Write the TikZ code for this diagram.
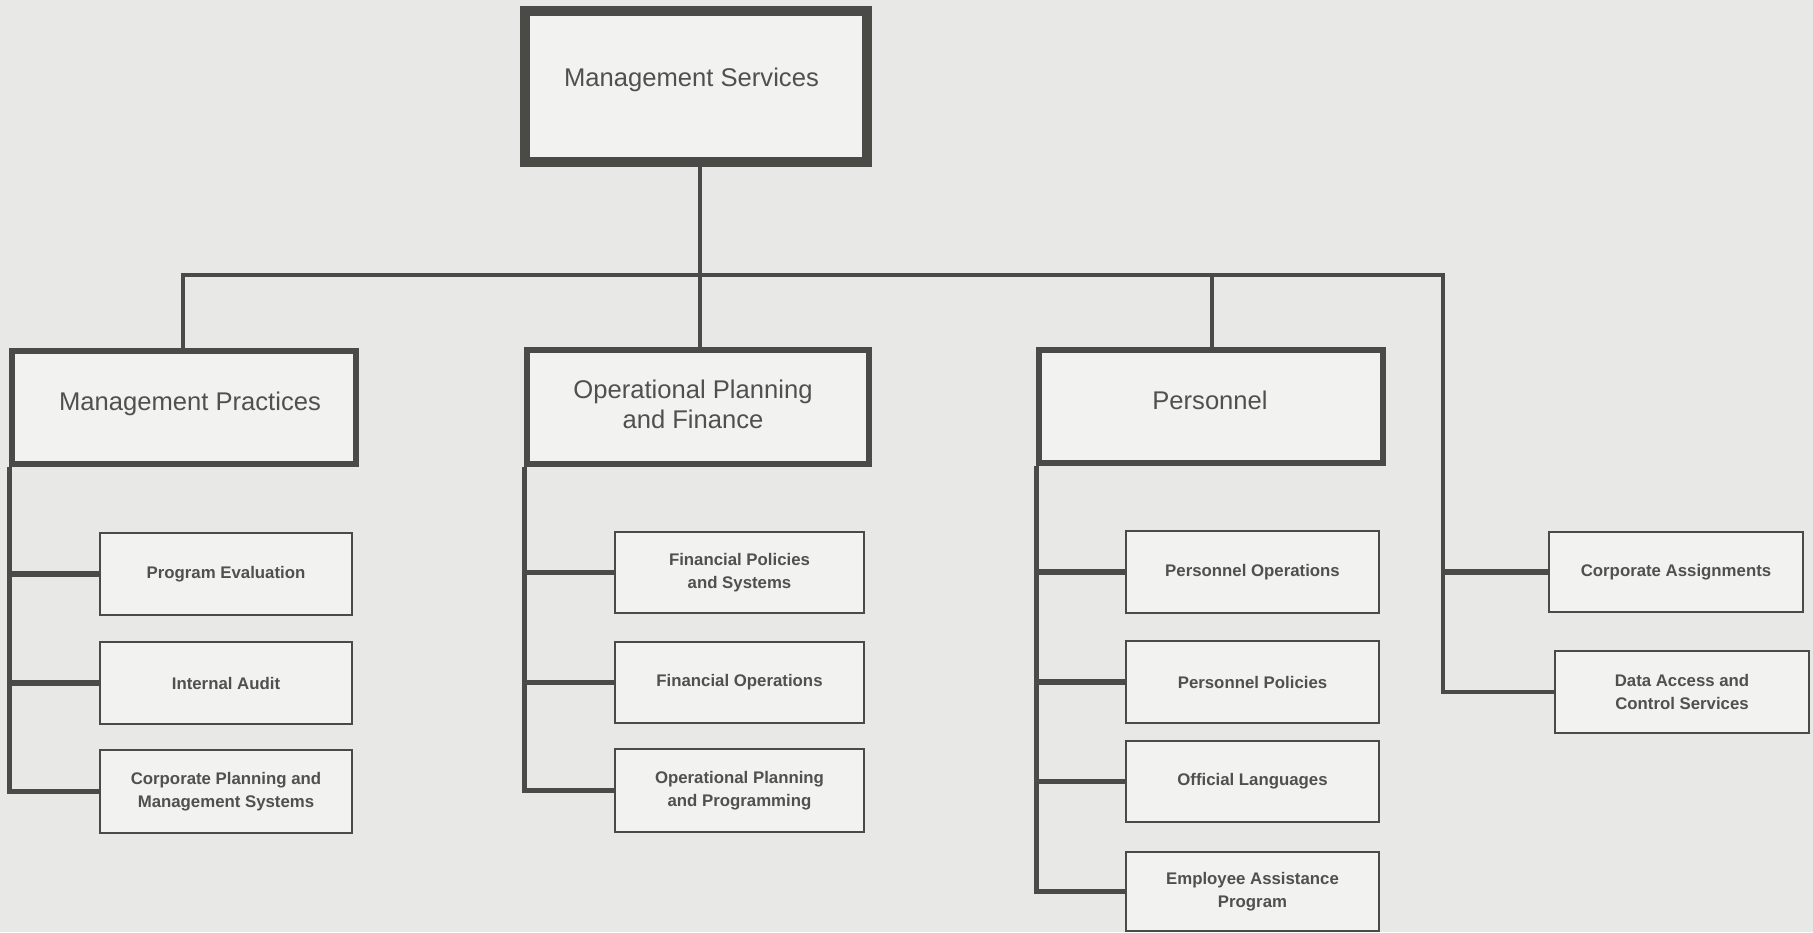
\documentclass[tikz,border=0pt]{standalone}
\usepackage{fontspec}
\setmainfont{Liberation Sans}
\definecolor{bgc}{HTML}{E8E8E6}
\definecolor{boxfill}{HTML}{F2F2F0}
\definecolor{ink}{HTML}{4A4A46}
\definecolor{txt}{HTML}{505050}
\begin{document}
\begin{tikzpicture}[x=0.5pt,y=-0.5pt,
  topbox/.style={draw=ink, fill=boxfill, line width=5pt, inner sep=0pt, minimum width=171pt, minimum height=75.5pt},
  headbox/.style={draw=ink, fill=boxfill, line width=3pt, inner sep=0pt, minimum width=172pt, minimum height=56.5pt},
  headtext/.style={text=txt, font=\fontsize{12.8}{15}\selectfont, align=center, inner sep=0pt},
  childbox/.style={draw=ink, fill=boxfill, line width=0.75pt, inner sep=0pt, minimum width=126pt, minimum height=41pt,
    text=txt, font=\fontsize{8.4}{11.5}\selectfont\bfseries, align=center},
  conn/.style={draw=ink, line width=2.25pt},
  trunk/.style={draw=ink, line width=2.5pt},
  twig/.style={draw=ink, line width=2.75pt},
]
\fill[bgc] (0,0) rectangle (1813,932);
\useasboundingbox (0,0) rectangle (1813,932);

% top
\node[topbox] (ms) at (696,86.5) {};
\node[headtext, anchor=base] (mst) at (691.5,86) {Management Services};

% heads
\node[headbox] (mp) at (184,407.5) {};
\node[headtext, anchor=base] (mpt) at (190,410) {Management Practices};
\node[headbox, minimum width=171pt, minimum height=57pt] (opf) at (698,407) {};
\node[headtext, anchor=base] (opft1) at (693,398) {Operational Planning};
\node[headtext, anchor=base] (opft2) at (693,428) {and Finance};
\node[headbox] (per) at (1211,406.5) {};
\node[headtext, anchor=base] (pert) at (1210,409) {Personnel};

% children MP
\node[childbox] (pe) at (226,574) {Program Evaluation};
\node[childbox] (ia) at (226,683) {Internal Audit};
\node[childbox, minimum height=41.5pt] (cpms) at (226,791.5) {Corporate Planning and\\Management Systems};
% children OPF
\node[childbox, minimum width=124.5pt, minimum height=40.5pt] (fps) at (739.5,572.5) {Financial Policies\\and Systems};
\node[childbox, minimum width=124.5pt, minimum height=40.5pt] (fo) at (739.5,682.5) {Financial Operations};
\node[childbox, minimum width=124.5pt, minimum height=41.5pt] (opp) at (739.5,790.5) {Operational Planning\\and Programming};
% children Personnel
\node[childbox, minimum width=126.5pt] (po) at (1252.5,572) {Personnel Operations};
\node[childbox, minimum width=126.5pt] (pp) at (1252.5,682) {Personnel Policies};
\node[childbox, minimum width=126.5pt, minimum height=40.5pt] (ol) at (1252.5,781.5) {Official Languages};
\node[childbox, minimum width=126.5pt, minimum height=39.5pt] (eap) at (1252.5,891.5) {Employee Assistance\\Program};
% right
\node[childbox, minimum width=127pt, minimum height=40pt] (ca) at (1676,572) {Corporate Assignments};
\node[childbox, minimum width=127pt] (dacs) at (1682,692) {Data Access and\\Control Services};

% bus
\coordinate (busL) at (183,275);
\coordinate (busC) at (700,275);
\coordinate (busP) at (1212,275);
\coordinate (busR) at (1443,275);
\draw[conn] (ms.south -| busC) -- (busC);
\draw[conn] (mp.north -| busL) -- (busL) -- (busR) -- (dacs.west -| busR) -- (dacs.west);
\draw[conn] (busC) -- (opf.north -| busC);
\draw[conn] (busP) -- (per.north -| busP);
\draw[twig] (ca.west -| busR) -- (ca.west);

% trunks
\draw[trunk] (mp.south west) -- (mp.south west |- cpms.west) -- (cpms.west);
\draw[twig] (mp.south west |- pe.west) -- (pe.west);
\draw[twig] (mp.south west |- ia.west) -- (ia.west);

\draw[trunk] (opf.south west) -- (opf.south west |- opp.west) -- (opp.west);
\draw[twig] (opf.south west |- fps.west) -- (fps.west);
\draw[twig] (opf.south west |- fo.west) -- (fo.west);

\draw[trunk] (per.south west) -- (per.south west |- eap.west) -- (eap.west);
\draw[twig] (per.south west |- po.west) -- (po.west);
\draw[twig] (per.south west |- pp.west) -- (pp.west);
\draw[twig] (per.south west |- ol.west) -- (ol.west);
\end{tikzpicture}
\end{document}
